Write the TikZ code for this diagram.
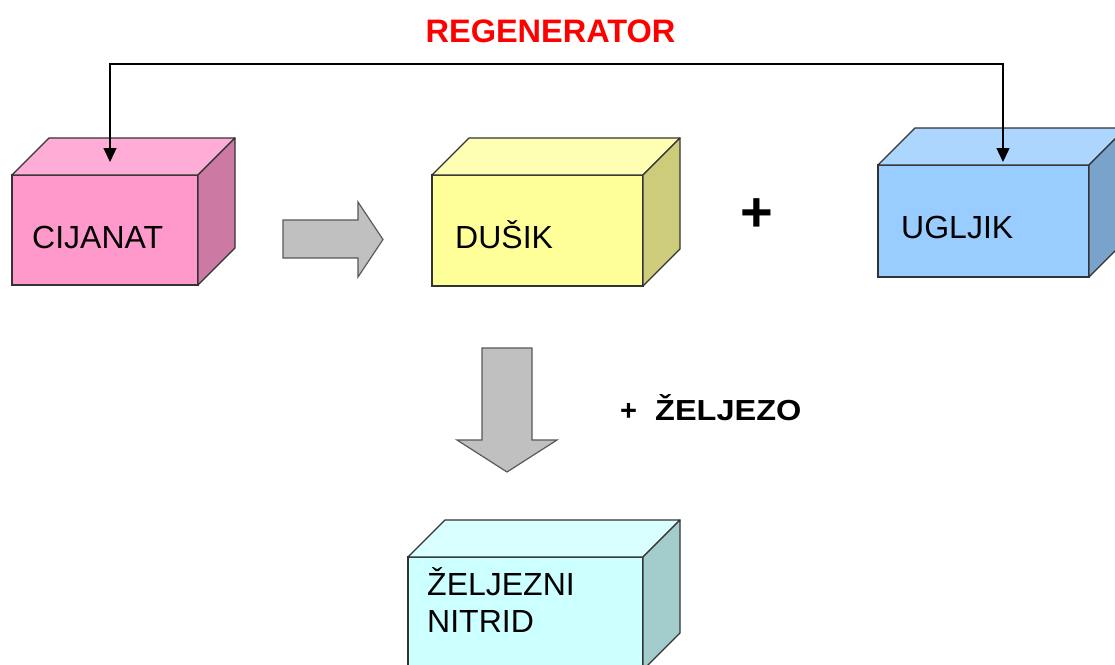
\documentclass[tikz,border=0pt]{standalone}
\usepackage{fontspec}
\setmainfont{Liberation Sans}
\usetikzlibrary{positioning,arrows.meta}

\definecolor{rozaP}{HTML}{FF99CC}
\definecolor{rozaG}{HTML}{FFADD6}
\definecolor{rozaS}{HTML}{CC7AA3}
\definecolor{zutaP}{HTML}{FFFF99}
\definecolor{zutaG}{HTML}{FFFFB3}
\definecolor{zutaS}{HTML}{CCCC7A}
\definecolor{plavaP}{HTML}{99CCFF}
\definecolor{plavaG}{HTML}{ADD6FF}
\definecolor{plavaS}{HTML}{7AA3CC}
\definecolor{cijanP}{HTML}{CCFFFF}
\definecolor{cijanG}{HTML}{D9FFFF}
\definecolor{cijanS}{HTML}{A3CCCC}
\definecolor{sivaS}{HTML}{C0C0C0}

\tikzset{
  lice/.style={draw=black!80, line width=1.3pt, rectangle, inner sep=0pt, outer sep=0pt, anchor=north west},
  ploha/.style={draw=black!80, line width=1.3pt, line join=round},
  natpis/.style={anchor=base west, inner sep=0pt, font=\fontsize{32}{38}\selectfont},
  masno/.style={inner sep=0pt, font=\fontsize{32.5}{38}\selectfont\bfseries},
  blok/.style={fill=sivaS, draw=black!65, line width=1.2pt, line join=miter},
  petlja/.style={draw=black, line width=1.4pt, {Triangle[length=14pt,width=13pt]}-{Triangle[length=14pt,width=13pt]}}
}

% kutija: ime, boja gornje plohe, boja bocne plohe
\newcommand{\kutija}[3]{%
  \draw[ploha, fill=#2] (#1.north west) -- ++(37,-37) -- ([shift={(37,-37)}]#1.north east) -- (#1.north east) -- cycle;
  \draw[ploha, fill=#3] (#1.north east) -- ++(37,-37) -- ([shift={(37,-37)}]#1.south east) -- (#1.south east) -- cycle;
}

\begin{document}
\begin{tikzpicture}[x=1pt, y=-1pt]
  \clip (0,0) rectangle (1115,664);
  \fill[white] (0,0) rectangle (1115,664);

  % kutije
  \node[lice, fill=rozaP, minimum width=186pt, minimum height=110pt] (cijanat) at (12,175) {};
  \kutija{cijanat}{rozaG}{rozaS}
  \node[lice, fill=zutaP, minimum width=211pt, minimum height=111pt] (dusik) at (432,175) {};
  \kutija{dusik}{zutaG}{zutaS}
  \node[lice, fill=plavaP, minimum width=211pt, minimum height=112pt] (ugljik) at (878,165) {};
  \kutija{ugljik}{plavaG}{plavaS}
  \node[lice, fill=cijanP, minimum width=235pt, minimum height=113pt] (nitrid) at (408,557) {};
  \kutija{nitrid}{cijanG}{cijanS}

  % natpisi
  \node[natpis] (tCijanat) at ([xshift=20, yshift=37]cijanat.south west) {CIJANAT};
  \node[natpis] (tDusik) at ([xshift=23, yshift=38]dusik.south west) {DUŠIK};
  \node[natpis] (tUgljik) at ([xshift=23, yshift=39]ugljik.south west) {UGLJIK};
  \node[natpis] (tNitrid1) at ([xshift=19, yshift=-38]nitrid.north west) {ŽELJEZNI};
  \node[natpis] (tNitrid2) at ([xshift=19, yshift=-75]nitrid.north west) {NITRID};

  \node[masno, text=red] (regen) at (550.5,31.5) {REGENERATOR};
  \node[masno, font=\fontsize{56}{60}\selectfont\bfseries] (plus) at (757,215) {+};
  \node[masno, font=\fontsize{29}{34}\selectfont\bfseries, anchor=base west] (plusFe) at (620,420) {+};
  \node[masno, font=\fontsize{29}{34}\selectfont\bfseries, anchor=base west] (zeljezo) at (655,420) {\scalebox{1.12}[1]{ŽELJEZO}};

  % regenerator petlja
  \coordinate (cijUlaz) at ([xshift=98, yshift=13]cijanat.north west);
  \coordinate (uglUlaz) at ([xshift=125, yshift=3]ugljik.north west);
  \coordinate (vrh) at (549,64);
  \draw[petlja] (cijUlaz) |- (vrh) -| (uglUlaz);

  % sive strelice
  \coordinate (s1) at (283,220);
  \draw[blok] (s1) -- ++(75,0) -- ++(0,-18) -- ++(25,37.5) -- ++(-25,37.5) -- ++(0,-19) -- ++(-75,0) -- cycle;
  \coordinate (s2) at (482,348);
  \draw[blok] (s2) -- ++(50,0) -- ++(0,92) -- ++(25,0) -- ++(-50,32) -- ++(-50,-32) -- ++(25,0) -- cycle;
\end{tikzpicture}
\end{document}
